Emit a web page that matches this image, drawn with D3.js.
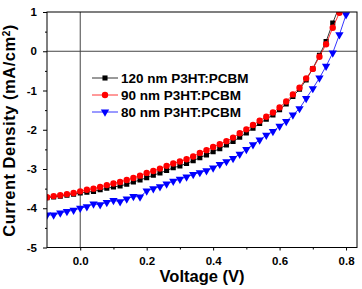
<!DOCTYPE html>
<html lang="en">
<head>
<meta charset="utf-8">
<title>J-V curves</title>
<script src="https://cdn.jsdelivr.net/npm/d3@7"></script>
<style>
  body { margin: 0; background: #fff; }
  text { font-family: Arial, "Liberation Sans", sans-serif; font-weight: bold; }
  .tick text { font-size: 11.5px; font-weight: bold; font-family: Arial, "Liberation Sans", sans-serif; }
  .axTitle { font-size: 16.5px; }
  .legend { font-size: 13.5px; }
</style>
</head>
<body>
<div class="chart"></div>
<script>
// voltage points (V), 0.02 V step
var voltage = [-0.10,-0.08,-0.06,-0.04,-0.02,0.00,0.02,0.04,0.06,0.08,0.10,0.12,0.14,0.16,0.18,0.20,0.22,0.24,0.26,0.28,
               0.30,0.32,0.34,0.36,0.38,0.40,0.42,0.44,0.46,0.48,0.50,0.52,0.54,0.56,0.58,0.60,0.62,0.64,0.66,0.68,
               0.70,0.72,0.74,0.76,0.78,0.80];

// current density (mA/cm2)
var j120 = [-3.73,-3.71,-3.69,-3.67,-3.64,-3.61,-3.59,-3.57,-3.53,-3.49,-3.46,-3.43,-3.39,-3.33,-3.28,-3.22,-3.16,-3.10,-3.04,-2.97,
            -2.92,-2.86,-2.79,-2.71,-2.64,-2.56,-2.48,-2.39,-2.30,-2.19,-2.08,-1.96,-1.84,-1.73,-1.62,-1.49,-1.34,-1.15,-0.97,-0.73,
            -0.44,-0.10,0.25,0.72,1.15];
var j90 = [-3.72,-3.69,-3.67,-3.64,-3.61,-3.57,-3.53,-3.50,-3.46,-3.41,-3.37,-3.33,-3.28,-3.23,-3.17,-3.10,-3.05,-2.99,-2.92,-2.86,
           -2.81,-2.75,-2.68,-2.59,-2.52,-2.44,-2.37,-2.29,-2.20,-2.09,-1.99,-1.88,-1.77,-1.67,-1.56,-1.43,-1.28,-1.10,-0.93,-0.69,
           -0.45,-0.14,0.18,0.60,0.98];
var j80 = [-4.17,-4.17,-4.12,-4.08,-4.05,-4.00,-3.96,-3.89,-3.91,-3.85,-3.80,-3.83,-3.76,-3.70,-3.71,-3.56,-3.50,-3.45,-3.38,-3.31,
           -3.26,-3.20,-3.14,-3.09,-3.04,-2.97,-2.88,-2.81,-2.73,-2.62,-2.50,-2.38,-2.26,-2.14,-2.04,-1.91,-1.79,-1.62,-1.46,-1.20,
           -0.95,-0.68,-0.38,-0.04,0.42,0.93];

var seriesNames = ["120 nm P3HT:PCBM", "90 nm P3HT:PCBM", "80 nm P3HT:PCBM"];
var seriesColors = ["#000000", "#ff0000", "#0000ff"];
var seriesShapes = [d3.symbolSquare, d3.symbolCircle, d3.symbolTriangle];
var seriesSizes = [26, 32, 30];

var xMajor = [0.0, 0.2, 0.4, 0.6, 0.8];
var xMinor = [0.1, 0.3, 0.5, 0.7];
var yMajor = [-5, -4, -3, -2, -1, 0, 1];
var yMinor = [-4.5, -3.5, -2.5, -1.5, -0.5, 0.5];

var w = 362, h = 289;
var pLeft = 47, pRight = 357, pTop = 12, pBottom = 247.5;

var svg = d3.select("div.chart").append("svg")
    .attr("width", w).attr("height", h);

var xScale = d3.scaleLinear().domain([-0.1, 0.833]).range([pLeft, pRight]);
var yScale = d3.scaleLinear().domain([-5, 1]).range([pBottom, pTop]);

svg.append("clipPath").attr("id", "clip")
  .append("rect").attr("x", pLeft).attr("y", pTop)
  .attr("width", pRight - pLeft).attr("height", pBottom - pTop);

// zero lines
svg.append("line")
  .attr("x1", xScale(0)).attr("x2", xScale(0))
  .attr("y1", pTop).attr("y2", pBottom)
  .attr("stroke", "#444").attr("stroke-width", 1);
svg.append("line")
  .attr("x1", pLeft).attr("x2", pRight)
  .attr("y1", yScale(0)).attr("y2", yScale(0))
  .attr("stroke", "#444").attr("stroke-width", 1);

// data
var series = [j120, j90, j80];
var plot = svg.append("g").attr("clip-path", "url(#clip)");
var line = d3.line().x(function(d){ return xScale(d[0]); }).y(function(d){ return yScale(d[1]); });

// draw blue first, then black, red on top
[2, 0, 1].forEach(function(s){
  var pts = series[s].map(function(v, i){ return [voltage[i], v]; });
  plot.append("path").datum(pts)
    .attr("d", line).attr("fill", "none")
    .attr("stroke", seriesColors[s]).attr("stroke-width", 0.8);
  var sym = d3.symbol().type(seriesShapes[s]).size(seriesSizes[s]);
  plot.selectAll("path.m" + s).data(pts).enter()
    .append("path").attr("class", "m" + s)
    .attr("d", sym)
    .attr("transform", function(d){
      return "translate(" + xScale(d[0]) + "," + yScale(d[1]) + ")" + (s === 2 ? " rotate(180)" : "");
    })
    .attr("fill", seriesColors[s]);
});

// axes
var xAxis = d3.axisBottom(xScale).tickValues(xMajor).tickFormat(d3.format(".1f"))
    .tickSize(3).tickSizeOuter(0).tickPadding(6);
var xAxisMinor = d3.axisBottom(xScale).tickValues(xMinor).tickFormat("")
    .tickSize(2).tickSizeOuter(0);
var yAxis = d3.axisLeft(yScale).tickValues(yMajor).tickFormat(function(d){ return String(d); })
    .tickSize(4).tickSizeOuter(0).tickPadding(6);
var yAxisMinor = d3.axisLeft(yScale).tickValues(yMinor).tickFormat("")
    .tickSize(2).tickSizeOuter(0);

svg.append("g").attr("transform", "translate(0," + pBottom + ")").call(xAxisMinor);
svg.append("g").attr("transform", "translate(0," + pBottom + ")").call(xAxis);
svg.append("g").attr("transform", "translate(" + pLeft + ",0)").call(yAxisMinor);
svg.append("g").attr("transform", "translate(" + pLeft + ",0)").call(yAxis);
svg.selectAll(".domain").remove();
svg.selectAll(".tick line").attr("stroke", "#000");
svg.selectAll(".tick text").attr("fill", "#000");

// frame
svg.append("rect")
  .attr("x", pLeft).attr("y", pTop)
  .attr("width", pRight - pLeft).attr("height", pBottom - pTop)
  .attr("fill", "none").attr("stroke", "#000").attr("stroke-width", 1);

// titles
svg.append("text").attr("class", "axTitle")
  .attr("x", (pLeft + pRight) / 2).attr("y", 282)
  .attr("text-anchor", "middle")
  .text("Voltage (V)");

var yt = svg.append("text").attr("class", "axTitle")
  .attr("transform", "translate(15," + ((pTop + pBottom) / 2 + 1) + ") rotate(-90)")
  .attr("text-anchor", "middle")
  .attr("textLength", 212).attr("lengthAdjust", "spacing");
yt.append("tspan").text("Current Density (mA/cm");
yt.append("tspan").attr("baseline-shift", "super").attr("font-size", "10px").text("2");
yt.append("tspan").text(")");

// legend
var legend = svg.append("g");
seriesNames.forEach(function(name, i){
  var y = 78 + i * 17;
  legend.append("line")
    .attr("x1", 92).attr("x2", 118).attr("y1", y).attr("y2", y)
    .attr("stroke", seriesColors[i]).attr("stroke-width", 0.8);
  legend.append("path")
    .attr("d", d3.symbol().type(seriesShapes[i]).size(seriesSizes[i]))
    .attr("transform", "translate(105," + y + ")" + (i === 2 ? " rotate(180)" : ""))
    .attr("fill", seriesColors[i]);
  legend.append("text").attr("class", "legend")
    .attr("x", 121).attr("y", y + 5)
    .text(name);
});
</script>
</body>
</html>
